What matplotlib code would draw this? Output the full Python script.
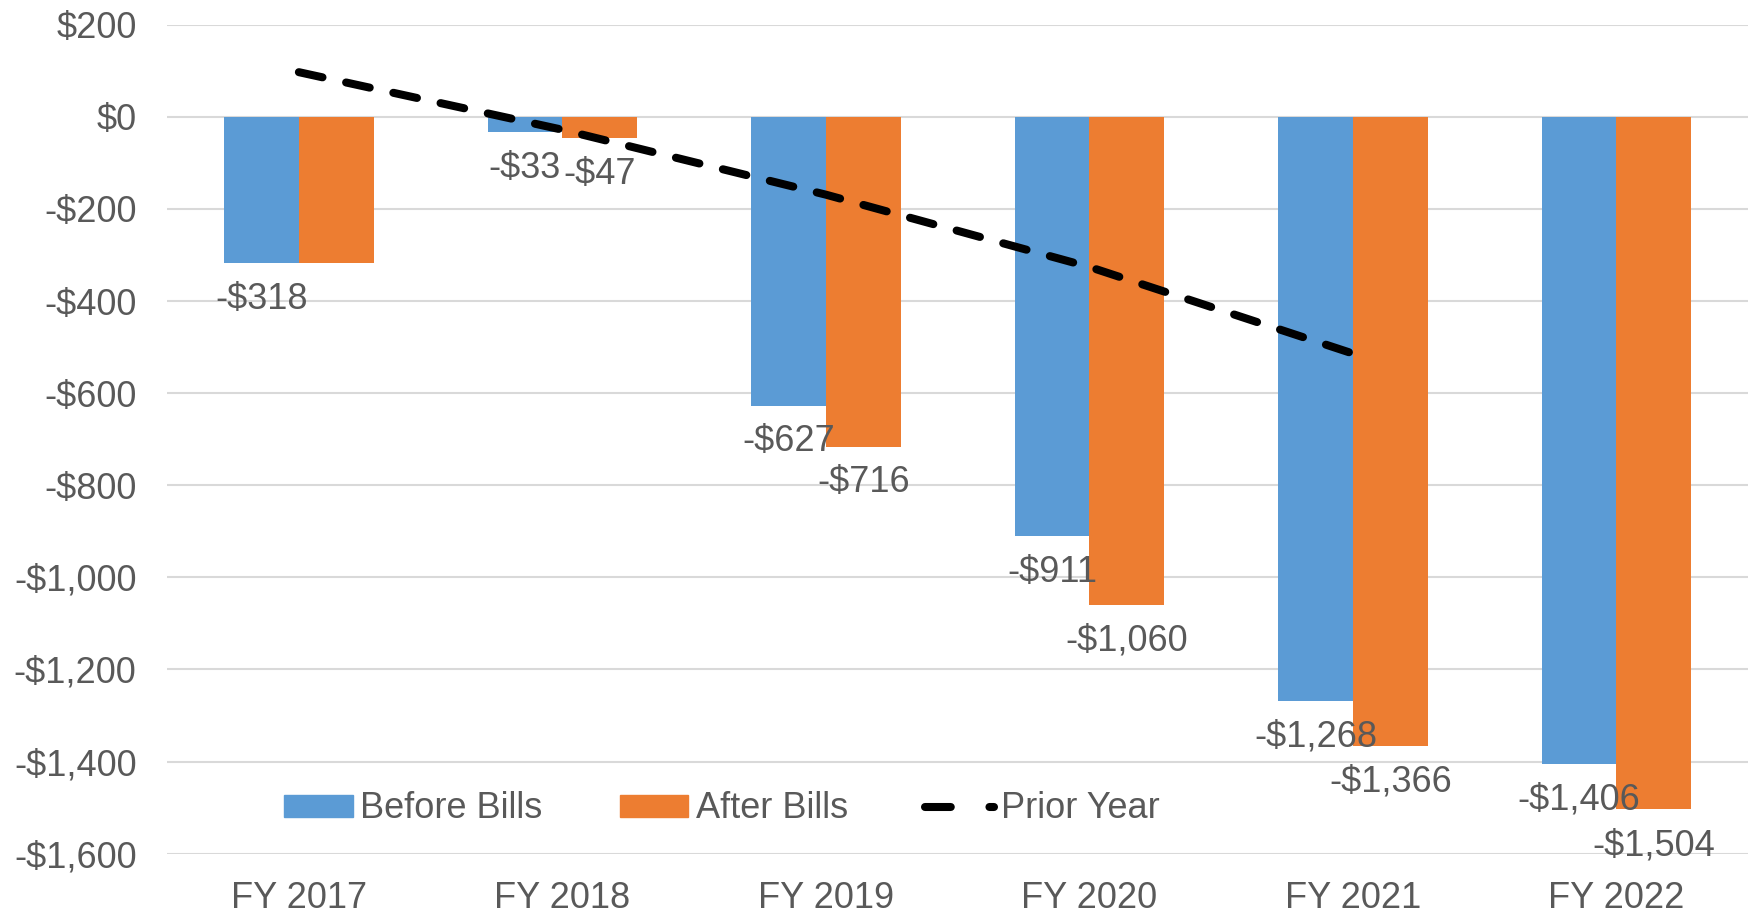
import numpy as np
import matplotlib.pyplot as plt
from matplotlib.lines import Line2D
from matplotlib.patches import Patch

years = ["FY 2017", "FY 2018", "FY 2019", "FY 2020", "FY 2021", "FY 2022"]
before_bills = [-318, -33, -627, -911, -1268, -1406]
after_bills = [-318, -47, -716, -1060, -1366, -1504]
prior_year = [97, -28, -169, -326, -514]

BLUE = "#5B9BD5"
ORANGE = "#ED7D31"
TEXT = "#595959"
FS = 26


def money(v):
    s = f"${abs(v):,.0f}"
    return "-" + s if v < 0 else s


plt.rcParams["font.family"] = ["Liberation Sans", "DejaVu Sans"]

fig = plt.figure(figsize=(17.5, 9.16), dpi=100)
ax = fig.add_axes([0.0955, 0.068, 0.9035, 0.905])

x = np.arange(len(years))
w = 0.284
ax.bar(x - w / 2, before_bills, width=w, color=BLUE, zorder=2)
ax.bar(x + w / 2, after_bills, width=w, color=ORANGE, zorder=2)

# data labels below bar ends (the FY 2017 after-bills label sits under the before one)
for i in range(len(years)):
    ax.annotate(money(before_bills[i]), (x[i] - w / 2, before_bills[i]),
                xytext=(0, -26), textcoords="offset points",
                ha="center", va="center", fontsize=FS, color=TEXT, zorder=4)
    if after_bills[i] != before_bills[i]:
        ax.annotate(money(after_bills[i]), (x[i] + w / 2, after_bills[i]),
                    xytext=(0, -26), textcoords="offset points",
                    ha="center", va="center", fontsize=FS, color=TEXT, zorder=4)

ax.plot(x[:len(prior_year)], prior_year, color="black", lw=5.8,
        dashes=(3, 3), dash_capstyle="round", zorder=3)

ax.set_xlim(-0.5, 5.5)
ax.set_ylim(-1600, 200)
yt = np.arange(-1600, 201, 200)
ax.set_yticks(yt)
ax.set_yticklabels([money(v) for v in yt])
ax.set_xticks(x)
ax.set_xticklabels(years)
ax.tick_params(axis="both", length=0, labelsize=FS, colors=TEXT)
ax.tick_params(axis="y", pad=22)
ax.tick_params(axis="x", pad=20)
ax.grid(axis="y", color="#D9D9D9", lw=1.5, zorder=0)
for sp in ax.spines.values():
    sp.set_visible(False)

handles = [
    Patch(color=BLUE),
    Patch(color=ORANGE),
    Line2D([], [], color="black", lw=5.8, dashes=(3.2, 4.8), dash_capstyle="round"),
]
ax.legend(handles, ["Before Bills", "After Bills", "Prior Year"], ncol=3,
          loc="center left", bbox_to_anchor=(0.058, 0.054), frameon=False,
          fontsize=FS, labelcolor=TEXT, handlelength=1.9, handleheight=0.55,
          handletextpad=0.2, columnspacing=2.15, borderpad=0.2)

fig.savefig("out.png", dpi=100)
